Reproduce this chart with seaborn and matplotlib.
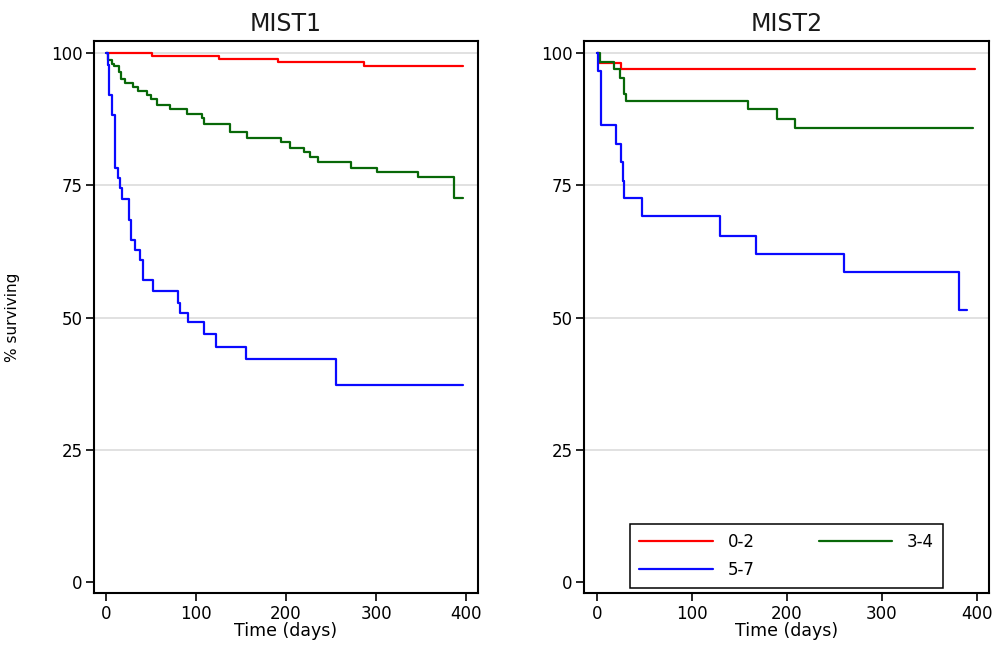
import matplotlib
matplotlib.use("Agg")
import matplotlib.pyplot as plt
import pandas as pd
import seaborn as sns

# Kaplan-Meier estimates: step times (days) and % surviving after each step
groups = ["0-2", "3-4", "5-7"]
colors = {"0-2": "#ff0000", "3-4": "#086808", "5-7": "#0a0aff"}
panels = ["MIST1", "MIST2"]

mist1_02_days = [0, 51.5, 125, 191, 287, 397]
mist1_02_pct = [100, 99.6, 98.9, 98.4, 97.7, 97.7]

mist1_34_days = [0, 2, 6.7, 9, 14, 16.5, 21.5, 30, 35.5, 45, 50.5, 57, 71, 89.6,
                 107, 109, 138, 157, 194, 204, 220, 227, 236, 272, 301, 347, 387, 397]
mist1_34_pct = [100, 98.7, 98.0, 97.6, 96.5, 95.2, 94.4, 93.6, 92.9, 92.2, 91.3, 90.2,
                89.4, 88.6, 87.8, 86.7, 85.2, 84.0, 83.3, 82.1, 81.4, 80.4, 79.5, 78.3,
                77.6, 76.6, 72.6, 72.6]

mist1_57_days = [0, 2, 3.5, 6.7, 10.4, 13.3, 15.6, 17.8, 25, 27.4, 32, 37.8, 41.5,
                 52.6, 80.4, 82, 91.5, 109, 122, 155.6, 256, 397]
mist1_57_pct = [100, 97.8, 92.2, 88.3, 78.3, 76.4, 74.5, 72.5, 68.5, 64.7, 62.8, 60.9,
                57.2, 55.1, 52.7, 50.8, 49.1, 46.9, 44.5, 42.2, 37.3, 37.3]

mist2_02_days = [0, 2.5, 25.4, 398]
mist2_02_pct = [100, 98.2, 97.0, 97.0]

mist2_34_days = [0, 3.5, 18.7, 24.7, 29.2, 31, 159.5, 189.3, 208.5, 396]
mist2_34_pct = [100, 98.4, 97.0, 95.4, 92.4, 91.0, 89.4, 87.5, 85.9, 85.9]

mist2_57_days = [0, 1.6, 4, 20.5, 25.4, 27.5, 29.2, 47.5, 129.7, 167.5, 260.3, 380.8, 389]
mist2_57_pct = [100, 96.6, 86.4, 82.9, 79.4, 75.9, 72.6, 69.3, 65.4, 62.0, 58.6, 51.5, 51.5]

x_ticks = [0, 100, 200, 300, 400]
y_ticks = [0, 25, 50, 75, 100]

series = {
    ("MIST1", "0-2"): (mist1_02_days, mist1_02_pct),
    ("MIST1", "3-4"): (mist1_34_days, mist1_34_pct),
    ("MIST1", "5-7"): (mist1_57_days, mist1_57_pct),
    ("MIST2", "0-2"): (mist2_02_days, mist2_02_pct),
    ("MIST2", "3-4"): (mist2_34_days, mist2_34_pct),
    ("MIST2", "5-7"): (mist2_57_days, mist2_57_pct),
}

rows = []
for (panel, grp), (days, pct) in series.items():
    for d, p in zip(days, pct):
        rows.append({"panel": panel, "group": grp, "day": d, "pct": p})
df = pd.DataFrame(rows)

sns.set_style("white")
plt.rcParams["font.family"] = ["DejaVu Sans"]
plt.rcParams["text.color"] = "black"
plt.rcParams["axes.labelcolor"] = "black"

fig = plt.figure(figsize=(9.97, 6.53), dpi=100)
axes = [
    fig.add_axes([0.0946, 0.0914, 0.3846, 0.8462]),
    fig.add_axes([0.5861, 0.0914, 0.4062, 0.8462]),
]

for ax, panel in zip(axes, panels):
    sub = df[df["panel"] == panel]
    sns.lineplot(data=sub, x="day", y="pct", hue="group", hue_order=groups,
                 palette=colors, estimator=None, drawstyle="steps-post",
                 linewidth=1.6, legend=False, ax=ax)
    ax.set_xlim(-13, 413)
    ax.set_ylim(-2.2, 102.4)
    ax.set_xticks(x_ticks)
    ax.set_yticks(y_ticks)
    ax.tick_params(axis="both", which="major", bottom=True, left=True,
                   direction="out", length=5.5, width=1.2,
                   labelsize=12, pad=3, colors="black")
    ax.yaxis.grid(True, color="#dcdcdc", linewidth=1.2)
    ax.set_axisbelow(True)
    ax.get_ygridlines()[0].set_visible(False)
    for sp in ax.spines.values():
        sp.set_visible(True)
        sp.set_color("black")
        sp.set_linewidth(1.5)
    ax.set_title(panel, fontsize=17, pad=7, color="#1a1a1a")
    ax.set_xlabel("Time (days)", fontsize=12.5, labelpad=-1, color="black")
    ax.set_ylabel("")

axes[0].set_ylabel("% surviving", fontsize=11, color="black")
axes[0].yaxis.set_label_coords(-0.194, 0.5)

# legend: two columns, 0-2 / 3-4 on the top row and 5-7 beneath
line_map = dict(zip(groups, axes[1].get_lines()[:3]))
order = ["0-2", "5-7", "3-4"]
leg = axes[1].legend([line_map[g] for g in order], order, ncol=2, mode="expand",
                     loc="lower left", bbox_to_anchor=(0.113, 0.0096, 0.773, 0.125),
                     borderaxespad=0, fontsize=12, handlelength=4.4,
                     handletextpad=0.9, labelspacing=0.6, borderpad=0.55,
                     fancybox=False, framealpha=1, edgecolor="black")
leg.get_frame().set_linewidth(1.1)
for t in leg.get_texts():
    t.set_color("black")

fig.savefig("out.png", dpi=100, facecolor="white")
